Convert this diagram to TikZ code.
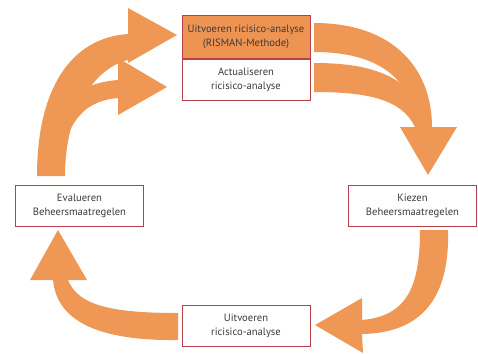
\documentclass[tikz,border=0pt]{standalone}
\usepackage{fontspec}
\setmainfont{PT Sans}
\definecolor{arroworange}{HTML}{EF9754}
\definecolor{boxred}{HTML}{B8404A}
\definecolor{boxfill}{HTML}{EE9452}
\definecolor{txt}{HTML}{3A3A3A}
\begin{document}
\begin{tikzpicture}[x=1pt,y=-1pt,
  flow/.style={fill=arroworange,draw=none},
  stepbox/.style={draw=boxred,line width=1pt,fill=white,minimum width=128pt,
    minimum height=41pt,align=center,text=txt,font=\fontsize{10.6}{14}\selectfont,inner sep=0pt},
  topbox/.style={stepbox,fill=boxfill,minimum height=42pt}]
\useasboundingbox (0,0) rectangle (478,353);

% curved arrows
% top: two shafts joining into one arrowhead pointing down
\path[flow] (314,23) .. controls (395,23) and (432,70) .. (432,127)
  -- (457,127) -- (428,175) -- (400,127) -- (415,127)
  .. controls (413,80) and (380,52) .. (314,52) -- cycle;
\path[flow] (314,63) .. controls (370,63) and (405,75) .. (426,112)
  -- (415,127) .. controls (402,100) and (370,92) .. (314,92) -- cycle;
% right: down to the bottom box
\path[flow] (448,230) .. controls (450,300) and (420,333) .. (362,334)
  -- (363,353) -- (315,325) -- (362,298) -- (362,320)
  .. controls (405,316) and (420,290) .. (420,230) -- cycle;
% bottom: up to the left box
\path[flow] (178,340) .. controls (100,341) and (57,322) .. (53,280)
  -- (30,280) -- (58,230) -- (87,280) -- (68,280)
  .. controls (78,305) and (110,313) .. (178,313) -- cycle;
% left: two arrowheads pointing right
\path[flow] (37,176) .. controls (37,90) and (70,38) .. (128,34)
  -- (128,8) -- (177,35) -- (128,63) -- (128,60)
  .. controls (95,68) and (65,110) .. (65,176) -- cycle;
\path[flow] (62,110) .. controls (70,92) and (92,82) .. (118,80)
  -- (118,58) -- (167,87) -- (118,115) -- (118,98)
  .. controls (95,100) and (78,110) .. (68,135) -- cycle;

% boxes
\node[topbox] (risman) at (246,37) {Uitvoeren ricisico-analyse\\(RISMAN-Methode)};
\node[stepbox,anchor=north] (actual) at (risman.south) {Actualiseren\\ricisico-analyse};
\node[stepbox] (kiezen) at (412.5,205.5) {Kiezen\\Beheersmaatregelen};
\node[stepbox] (uitvoeren) at (246,326) {Uitvoeren\\ricisico-analyse};
\node[stepbox] (evalueren) at (79.5,205.5) {Evalueren\\Beheersmaatregelen};
\end{tikzpicture}
\end{document}
